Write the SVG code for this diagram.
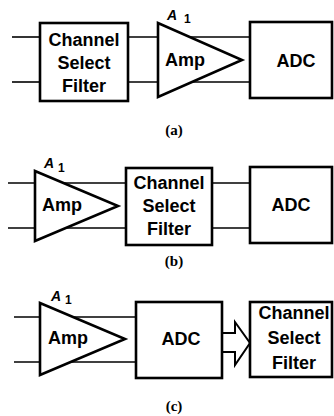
<svg xmlns="http://www.w3.org/2000/svg" width="334" height="416" viewBox="0 0 334 416">
<style>
.box{fill:#fff;stroke:#000;stroke-width:2.6}
.amp{fill:#fff;stroke:#000;stroke-width:2.6;stroke-linejoin:miter}
.wire{stroke:#000;stroke-width:1.6;fill:none}
.t{font-family:"Liberation Sans",Arial,sans-serif;font-weight:bold;font-size:18px;fill:#000}
.c{text-anchor:middle}
.g{font-family:"Liberation Sans",Arial,sans-serif;font-weight:bold;font-style:italic;font-size:14px;fill:#000}
.s{font-family:"Liberation Sans",Arial,sans-serif;font-weight:bold;font-size:12px;fill:#000}
.cap{font-family:"Liberation Serif","Times New Roman",serif;font-weight:bold;font-size:15px;fill:#000;text-anchor:middle}
</style>
<rect width="334" height="416" fill="#fff"/>
<g id="connectors">
<line class="wire" x1="12" y1="37" x2="40" y2="37"/>
<line class="wire" x1="12" y1="82" x2="40" y2="82"/>
<line class="wire" x1="128" y1="37" x2="250" y2="37"/>
<line class="wire" x1="128" y1="82" x2="250" y2="82"/>
<line class="wire" x1="8" y1="183" x2="126" y2="183"/>
<line class="wire" x1="8" y1="228" x2="126" y2="228"/>
<line class="wire" x1="212" y1="183" x2="250" y2="183"/>
<line class="wire" x1="212" y1="228" x2="250" y2="228"/>
<line class="wire" x1="14" y1="317" x2="136" y2="317"/>
<line class="wire" x1="14" y1="362" x2="136" y2="362"/>
<polygon id="bus-arrow" points="222,333 235,333 235,322 250,343 235,365 235,352 222,352" fill="#fff" stroke="#000" stroke-width="2" stroke-linejoin="miter"/>
</g>
<g id="a-filter">
<rect class="box" x="40" y="23" width="88" height="78"/>
<text class="t c" x="84" y="46">Channel</text>
<text class="t c" x="84" y="69">Select</text>
<text class="t c" x="84" y="92">Filter</text>
</g>
<g id="a-amp">
<polygon class="amp" points="158,23 158,97 242,60"/>
<text class="t" x="165" y="66">Amp</text>
<text class="g" x="167" y="20">A</text>
<text class="s" x="184" y="23">1</text>
</g>
<g id="a-adc">
<rect class="box" x="250" y="22" width="82" height="76"/>
<text class="t c" x="296" y="67">ADC</text>
</g>
<text id="label-a" class="cap" x="174" y="135">(a)</text>
<g id="b-amp">
<polygon class="amp" points="35,171 35,241 118,206"/>
<text class="t" x="42" y="211">Amp</text>
<text class="g" x="44" y="168">A</text>
<text class="s" x="58" y="172">1</text>
</g>
<g id="b-filter">
<rect class="box" x="126" y="168" width="86" height="77"/>
<text class="t c" x="169" y="189">Channel</text>
<text class="t c" x="169" y="212">Select</text>
<text class="t c" x="169" y="235">Filter</text>
</g>
<g id="b-adc">
<rect class="box" x="250" y="167" width="82" height="76"/>
<text class="t c" x="291" y="211">ADC</text>
</g>
<text id="label-b" class="cap" x="174" y="266">(b)</text>
<g id="c-amp">
<polygon class="amp" points="40,303 40,375 125,339"/>
<text class="t" x="48" y="344">Amp</text>
<text class="g" x="51" y="301">A</text>
<text class="s" x="65" y="304">1</text>
</g>
<g id="c-adc">
<rect class="box" x="136" y="302" width="86" height="76"/>
<text class="t c" x="181" y="345">ADC</text>
</g>
<g id="c-filter">
<rect class="box" x="250" y="302" width="82" height="75"/>
<text class="t c" x="294" y="319">Channel</text>
<text class="t c" x="294" y="344">Select</text>
<text class="t c" x="294" y="369">Filter</text>
</g>
<text id="label-c" class="cap" x="174" y="411">(c)</text>
</svg>
